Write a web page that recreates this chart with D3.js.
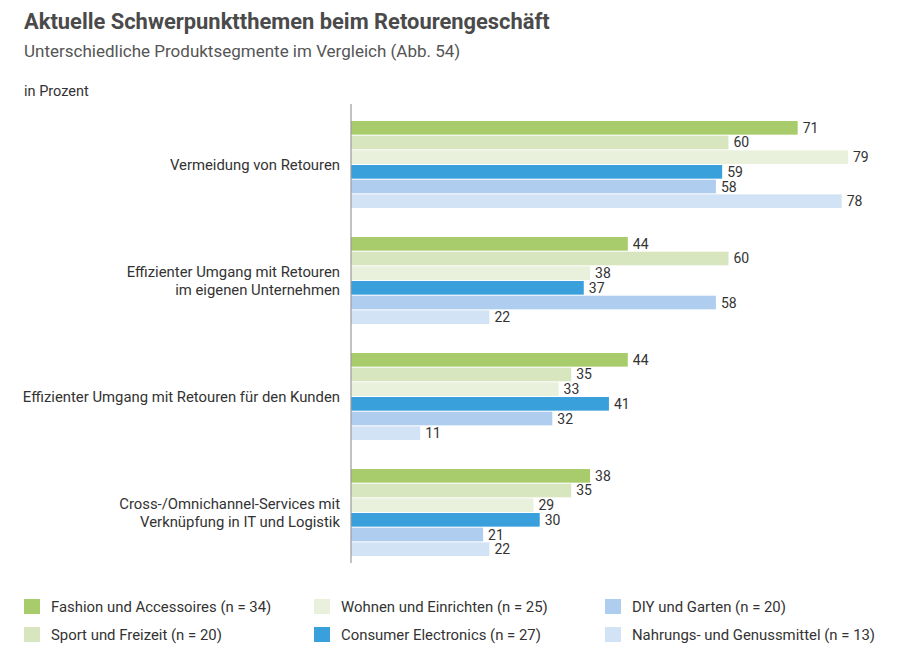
<!DOCTYPE html>
<html>
<head>
<meta charset="utf-8">
<script src="https://cdn.jsdelivr.net/npm/d3@7"></script>
<style>
  html, body { margin: 0; padding: 0; background: #fff; }
  svg { display: block; font-family: Roboto, "Liberation Sans", sans-serif; }
</style>
</head>
<body>
<svg id="chart" width="912" height="652"></svg>
<script>
const categories = [
  ["Vermeidung von Retouren"],
  ["Effizienter Umgang mit Retouren", "im eigenen Unternehmen"],
  ["Effizienter Umgang mit Retouren für den Kunden"],
  ["Cross-/Omnichannel-Services mit", "Verknüpfung in IT und Logistik"]
];
const seriesNames = [
  "Fashion und Accessoires (n = 34)",
  "Sport und Freizeit (n = 20)",
  "Wohnen und Einrichten (n = 25)",
  "Consumer Electronics (n = 27)",
  "DIY und Garten (n = 20)",
  "Nahrungs- und Genussmittel (n = 13)"
];
const seriesColors = ["#a8cb6b", "#d8e6c0", "#e9f0db", "#3aa0db", "#afcdee", "#d2e3f6"];
const fashion   = [71, 44, 44, 38];
const sport     = [60, 60, 35, 35];
const wohnen    = [79, 38, 33, 29];
const consumer  = [59, 37, 41, 30];
const diy       = [58, 58, 32, 21];
const nahrung   = [78, 22, 11, 22];
const seriesValues = [fashion, sport, wohnen, consumer, diy, nahrung];
const legendOrder = [0, 1, 2, 3, 4, 5];

const svg = d3.select("#chart");

// Titles
svg.append("text").attr("x", 24).attr("y", 29)
  .attr("font-size", 21.9).attr("font-weight", 700).attr("fill", "#4a4a4a")
  .text("Aktuelle Schwerpunktthemen beim Retourengeschäft");
svg.append("text").attr("x", 24).attr("y", 57)
  .attr("font-size", 17).attr("fill", "#555")
  .text("Unterschiedliche Produktsegmente im Vergleich (Abb. 54)");
svg.append("text").attr("x", 24).attr("y", 96)
  .attr("font-size", 14.5).attr("fill", "#333")
  .text("in Prozent");

const x0 = 351;
const x = d3.scaleLinear().domain([0, 79]).range([x0, 848]);
const yOuter = d3.scaleBand().domain(d3.range(categories.length))
  .range([121, 556]).paddingInner(0.25).paddingOuter(0);
const yInner = d3.scaleBand().domain(d3.range(seriesNames.length))
  .range([0, yOuter.bandwidth()]).paddingInner(0.07).paddingOuter(0);

const groups = svg.selectAll("g.grp").data(categories).join("g")
  .attr("class", "grp")
  .attr("transform", (d, i) => `translate(0,${yOuter(i)})`);

groups.each(function(cat, ci) {
  const g = d3.select(this);
  const rows = seriesValues.map((vals, si) => ({ si, v: vals[ci] }));
  g.selectAll("rect").data(rows).join("rect")
    .attr("x", x(0))
    .attr("y", d => yInner(d.si))
    .attr("width", d => x(d.v) - x(0))
    .attr("height", yInner.bandwidth())
    .attr("fill", d => seriesColors[d.si]);
  g.selectAll("text.val").data(rows).join("text")
    .attr("class", "val")
    .attr("x", d => x(d.v) + 5)
    .attr("y", d => yInner(d.si) + yInner.bandwidth() / 2 + 5)
    .attr("font-size", 14).attr("fill", "#333")
    .text(d => d.v);
  const mid = yOuter.bandwidth() / 2;
  const lh = 18.5;
  const n = cat.length;
  g.selectAll("text.cat").data(cat).join("text")
    .attr("class", "cat")
    .attr("x", 340).attr("text-anchor", "end")
    .attr("y", (d, li) => mid + 5.5 + (li - (n - 1) / 2) * lh)
    .attr("font-size", 14.85).attr("fill", "#333")
    .text(d => d);
});

// axis line
svg.append("line").attr("x1", x0).attr("x2", x0)
  .attr("y1", 104).attr("y2", 563)
  .attr("stroke", "#9a9a9a").attr("stroke-width", 1.2);

// legend
const legCols = [24, 314, 605];
const legRows = [599, 627];
const leg = svg.append("g");
legendOrder.forEach((si, k) => {
  const col = Math.floor(k / 2), row = k % 2;
  leg.append("rect").attr("x", legCols[col]).attr("y", legRows[row])
    .attr("width", 16).attr("height", 15).attr("fill", seriesColors[si]);
  leg.append("text").attr("x", legCols[col] + 27).attr("y", legRows[row] + 12.5)
    .attr("font-size", 14.9).attr("fill", "#333")
    .text(seriesNames[si]);
});
</script>
</body>
</html>
